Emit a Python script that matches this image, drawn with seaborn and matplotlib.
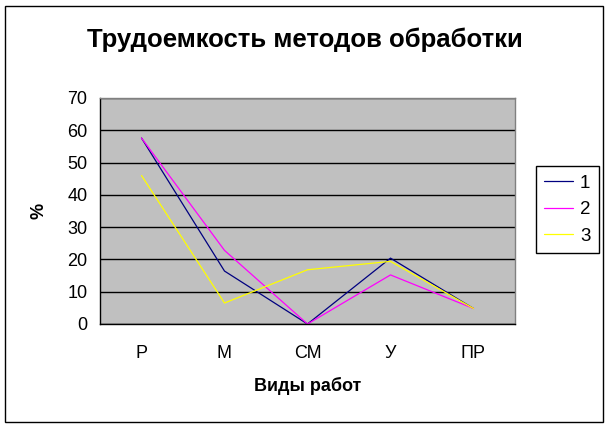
import seaborn as sns
import pandas as pd
import numpy as np
import matplotlib.pyplot as plt
from matplotlib.patches import Rectangle

sns.set_style('white')
plt.rcParams['font.family'] = ['Liberation Sans', 'DejaVu Sans']
plt.rcParams['text.color'] = 'black'
plt.rcParams['axes.labelcolor'] = 'black'
plt.rcParams['xtick.color'] = 'black'
plt.rcParams['ytick.color'] = 'black'

# data
categories = ['Р', 'М', 'СМ', 'У', 'ПР']
series_1 = [57.6, 16.4, 0.0, 20.4, 4.8]
series_2 = [57.6, 22.8, 0.0, 15.2, 4.8]
series_3 = [46.0, 6.5, 16.8, 19.4, 4.8]
series_names = ['1', '2', '3']

rows = []
for name, vals in zip(series_names, [series_1, series_2, series_3]):
    for i, v in enumerate(vals):
        rows.append({'pos': i, 'value': v, 'series': name})
df = pd.DataFrame(rows)

fig = plt.figure(figsize=(6.1, 4.28), dpi=100)
fig.patches.append(Rectangle((5 / 610, 6 / 428), 598 / 610, 416 / 428,
                             transform=fig.transFigure, fill=False,
                             edgecolor='black', linewidth=1))
ax = fig.add_axes([100 / 610, 1 - 324 / 428, 415 / 610, 226 / 428])
ax.set_facecolor('#c0c0c0')

sns.lineplot(data=df, x='pos', y='value', hue='series', sort=False,
             palette=['#000080', '#ff00ff', '#ffff00'], linewidth=0.9, ax=ax)

ax.set_xlim(-0.5, 4.5)
ax.set_ylim(0, 70)
ax.set_yticks(np.arange(0, 71, 10))
ax.yaxis.grid(True, color='black', linewidth=1)
ax.set_axisbelow(True)
ax.set_xticks(range(len(categories)))
ax.set_xticklabels(categories, fontsize=13)
ax.set_xticks(np.arange(-0.5, 4.6, 1), minor=True)
ax.tick_params(axis='x', which='major', length=0, pad=15)
ax.tick_params(axis='x', which='minor', length=5, width=1, color='black', direction='out')
ax.tick_params(axis='y', length=5, width=1, color='black', direction='out', labelsize=13, pad=4)

for s in ['left', 'bottom']:
    ax.spines[s].set_color('black')
    ax.spines[s].set_linewidth(1)
for s in ['top', 'right']:
    ax.spines[s].set_color('#808080')
    ax.spines[s].set_linewidth(1)

ax.set_xlabel('Виды работ', fontsize=13, fontweight='bold', labelpad=11)
ax.set_ylabel('%', fontsize=13, fontweight='bold', labelpad=14)
fig.text(0.5, 1 - 40 / 428, 'Трудоемкость методов обработки', ha='center', va='center',
         fontsize=18.5, fontweight='bold')

leg = ax.legend(loc='upper left', bbox_to_anchor=(536 / 610, 1 - 166 / 428),
                bbox_transform=fig.transFigure, frameon=True, fancybox=False,
                fontsize=13.5, handlelength=1.5, handletextpad=0.4, borderpad=0.45,
                labelspacing=0.5, title=None, borderaxespad=0)
leg.get_frame().set_edgecolor('black')
leg.get_frame().set_linewidth(1)
leg.get_frame().set_alpha(1)

fig.savefig('out.png', dpi=100, facecolor='white')
